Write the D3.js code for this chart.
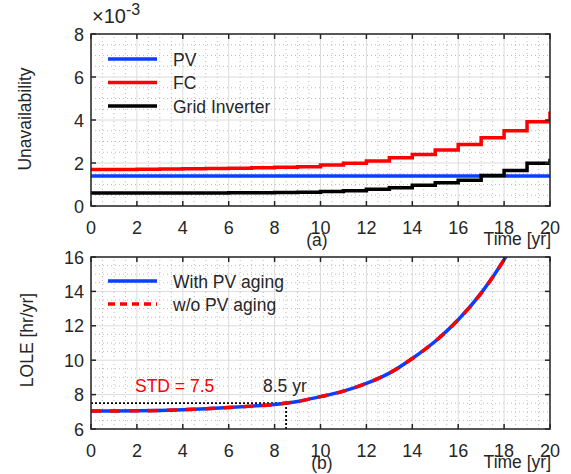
<!DOCTYPE html>
<html>
<head>
<meta charset="utf-8">
<script src="https://cdn.jsdelivr.net/npm/d3@7/dist/d3.min.js"></script>
<style>
  body { margin: 0; background: #fff; }
  text { font-family: "Liberation Sans", Arial, sans-serif; fill: #262626; }
</style>
</head>
<body>
<script>
// ---- data ----
// (a) unavailability, one value per year interval [k, k+1), last value = jump at year 20 (x 1e-3)
const years = d3.range(0, 21);
const pvUnavail = years.map(() => 1.40);
const fcUnavail = [1.70, 1.70, 1.71, 1.72, 1.73, 1.74, 1.76, 1.78, 1.80, 1.83,
                   1.91, 1.99, 2.09, 2.25, 2.39, 2.60, 2.86, 3.17, 3.50, 3.92, 4.40];
const gridUnavail = [0.60, 0.60, 0.60, 0.61, 0.61, 0.61, 0.62, 0.62, 0.63, 0.64,
                     0.67, 0.71, 0.78, 0.85, 0.96, 1.08, 1.20, 1.42, 1.65, 1.99, 2.20];

// (b) LOLE [hr/yr]
const loleYears = [0, 1, 2, 3, 4, 5, 6, 7, 8, 9, 10, 11, 12, 13, 14, 15, 16, 17, 18, 18.2];
const loleWithAging = [7.05, 7.05, 7.06, 7.08, 7.12, 7.18, 7.25, 7.33, 7.43, 7.60,
                       7.88, 8.20, 8.65, 9.25, 10.1, 11.1, 12.35, 13.9, 15.85, 16.3];
const loleWithoutAging = [7.05, 7.05, 7.06, 7.08, 7.12, 7.18, 7.25, 7.33, 7.43, 7.60,
                          7.88, 8.20, 8.65, 9.25, 10.1, 11.1, 12.35, 13.9, 15.85, 16.3];

const xTicks = d3.range(0, 21, 2);
const yTicksA = [0, 2, 4, 6, 8];
const yTicksB = [6, 8, 10, 12, 14, 16];
const stdLevel = 7.5;
const stdYear = 8.5;

const W = 571, H = 474;
const svg = d3.select("body").append("svg").attr("width", W).attr("height", H);

const left = 91, right = 550;
const x = d3.scaleLinear().domain([0, 20]).range([left, right]);
const tickFont = 18, textFont = 17.5;

// draws grid for one axes and sets up its clip path
function drawAxes(g, y, yTicks, yMinorStep, id) {
  const [y0, y1] = y.range();
  const xMinor = d3.range(0, 20.01, 0.5).filter(v => v % 2 !== 0);
  const yd = y.domain();
  const yMinor = d3.range(yd[0], yd[1] + 0.01, yMinorStep).filter(v => v % 2 !== 0);

  g.append("rect").attr("x", left).attr("y", y1).attr("width", right - left)
    .attr("height", y0 - y1).attr("fill", "#fff");

  // minor grid
  g.selectAll(".mx").data(xMinor).join("line")
    .attr("x1", d => x(d)).attr("x2", d => x(d)).attr("y1", y0).attr("y2", y1)
    .attr("stroke", "#bdbdbd").attr("stroke-width", 1).attr("stroke-dasharray", "1,3");
  g.selectAll(".my").data(yMinor).join("line")
    .attr("y1", d => y(d)).attr("y2", d => y(d)).attr("x1", left).attr("x2", right)
    .attr("stroke", "#bdbdbd").attr("stroke-width", 1).attr("stroke-dasharray", "1,3");
  // major grid
  g.selectAll(".gx").data(xTicks).join("line")
    .attr("x1", d => x(d)).attr("x2", d => x(d)).attr("y1", y0).attr("y2", y1)
    .attr("stroke", "#dcdcdc").attr("stroke-width", 1);
  g.selectAll(".gy").data(yTicks).join("line")
    .attr("y1", d => y(d)).attr("y2", d => y(d)).attr("x1", left).attr("x2", right)
    .attr("stroke", "#dcdcdc").attr("stroke-width", 1);

  svg.append("clipPath").attr("id", id).append("rect")
    .attr("x", left).attr("y", y1).attr("width", right - left).attr("height", y0 - y1);
}

function drawFrame(g, y, yTicks) {
  const [y0, y1] = y.range();
  const tl = 5;
  // ticks (inside, all four sides)
  g.selectAll(".tb").data(xTicks).join("line")
    .attr("x1", d => x(d)).attr("x2", d => x(d)).attr("y1", y0).attr("y2", y0 - tl)
    .attr("stroke", "#262626").attr("stroke-width", 1.5);
  g.selectAll(".tt").data(xTicks).join("line")
    .attr("x1", d => x(d)).attr("x2", d => x(d)).attr("y1", y1).attr("y2", y1 + tl)
    .attr("stroke", "#262626").attr("stroke-width", 1.5);
  g.selectAll(".tlft").data(yTicks).join("line")
    .attr("y1", d => y(d)).attr("y2", d => y(d)).attr("x1", left).attr("x2", left + tl)
    .attr("stroke", "#262626").attr("stroke-width", 1.5);
  g.selectAll(".trgt").data(yTicks).join("line")
    .attr("y1", d => y(d)).attr("y2", d => y(d)).attr("x1", right).attr("x2", right - tl)
    .attr("stroke", "#262626").attr("stroke-width", 1.5);
  g.append("rect").attr("x", left).attr("y", y1).attr("width", right - left)
    .attr("height", y0 - y1).attr("fill", "none").attr("stroke", "#262626").attr("stroke-width", 1.5);

  // tick labels
  g.selectAll(".xl").data(xTicks).join("text")
    .attr("x", d => x(d)).attr("y", y0 + 28).attr("text-anchor", "middle")
    .attr("font-size", tickFont).text(d => d);
  g.selectAll(".yl").data(yTicks).join("text")
    .attr("x", left - 7).attr("y", d => y(d) + 6.5).attr("text-anchor", "end")
    .attr("font-size", tickFont).text(d => d);
}

// ---------- (a) ----------
const yA = d3.scaleLinear().domain([0, 8]).range([206, 34]);
const gA = svg.append("g");
drawAxes(gA, yA, yTicksA, 0.5, "clipA");

const stair = d3.line().x((d, i) => x(years[i])).y(d => yA(d)).curve(d3.curveStepAfter);
const seriesA = [
  { name: "PV", values: pvUnavail, color: "#0a3fff" },
  { name: "FC", values: fcUnavail, color: "#ff0000" },
  { name: "Grid Inverter", values: gridUnavail, color: "#000000" }
];
gA.append("g").attr("clip-path", "url(#clipA)")
  .selectAll("path").data(seriesA).join("path")
  .attr("d", d => stair(d.values))
  .attr("fill", "none").attr("stroke", d => d.color).attr("stroke-width", 3.5);

drawFrame(gA, yA, yTicksA);

// exponent label
const expA = gA.append("text").attr("x", 92).attr("y", 23).attr("font-size", 20);
expA.append("tspan").text("\u00d7");
expA.append("tspan").text("10");
expA.append("tspan").attr("dy", -8).attr("font-size", 16).text("-3");

const legA = gA.selectAll(".lega").data(seriesA).join("g")
  .attr("transform", (d, i) => `translate(108,${59 + i * 23.5})`);
legA.append("line").attr("x1", 0).attr("x2", 49)
  .attr("stroke", d => d.color).attr("stroke-width", 3.5);
legA.append("text").attr("x", 65).attr("y", 6.5).attr("font-size", textFont).text(d => d.name);

gA.append("text").attr("transform", "translate(31,119) rotate(-90)")
  .attr("text-anchor", "middle").attr("font-size", textFont).text("Unavailability");
gA.append("text").attr("x", 317).attr("y", 246).attr("text-anchor", "middle")
  .attr("font-size", textFont).text("(a)");
gA.append("text").attr("x", 551).attr("y", 245).attr("text-anchor", "end")
  .attr("font-size", textFont).text("Time [yr]");

// ---------- (b) ----------
const yB = d3.scaleLinear().domain([6, 16]).range([429, 257]);
const gB = svg.append("g");
drawAxes(gB, yB, yTicksB, 0.5, "clipB");

const smooth = d3.line().x((d, i) => x(loleYears[i])).y(d => yB(d)).curve(d3.curveMonotoneX);
const plotB = gB.append("g").attr("clip-path", "url(#clipB)");

// STD reference lines
plotB.append("line").attr("x1", x(0)).attr("x2", x(stdYear))
  .attr("y1", yB(stdLevel)).attr("y2", yB(stdLevel))
  .attr("stroke", "#000").attr("stroke-width", 1.8).attr("stroke-dasharray", "2,2");
plotB.append("line").attr("x1", x(stdYear)).attr("x2", x(stdYear))
  .attr("y1", yB(6)).attr("y2", yB(stdLevel))
  .attr("stroke", "#000").attr("stroke-width", 1.8).attr("stroke-dasharray", "2,2");

plotB.append("path").attr("d", smooth(loleWithAging))
  .attr("fill", "none").attr("stroke", "#0a3fff").attr("stroke-width", 3.5);
plotB.append("path").attr("d", smooth(loleWithoutAging))
  .attr("fill", "none").attr("stroke", "#ff0000").attr("stroke-width", 3.5)
  .attr("stroke-dasharray", "10,9");

drawFrame(gB, yB, yTicksB);

const seriesB = [
  { name: "With PV aging", color: "#0a3fff", dash: null },
  { name: "w/o PV aging", color: "#ff0000", dash: "7,5" }
];
const legB = gB.selectAll(".legb").data(seriesB).join("g")
  .attr("transform", (d, i) => `translate(108,${281 + i * 23})`);
legB.append("line").attr("x1", 0).attr("x2", 49)
  .attr("stroke", d => d.color).attr("stroke-width", 3.5)
  .attr("stroke-dasharray", d => d.dash);
legB.append("text").attr("x", 65).attr("y", 6.5).attr("font-size", textFont).text(d => d.name);

gB.append("text").attr("x", 135).attr("y", 392).attr("font-size", textFont)
  .style("fill", "#ff0000").text("STD = " + stdLevel);
gB.append("text").attr("x", 263).attr("y", 392).attr("font-size", textFont)
  .text(stdYear + " yr");

gB.append("text").attr("transform", "translate(33,340) rotate(-90)")
  .attr("text-anchor", "middle").attr("font-size", textFont).text("LOLE [hr/yr]");
gB.append("text").attr("x", 322).attr("y", 469).attr("text-anchor", "middle")
  .attr("font-size", textFont).text("(b)");
gB.append("text").attr("x", 551).attr("y", 468).attr("text-anchor", "end")
  .attr("font-size", textFont).text("Time [yr]");
</script>
</body>
</html>
